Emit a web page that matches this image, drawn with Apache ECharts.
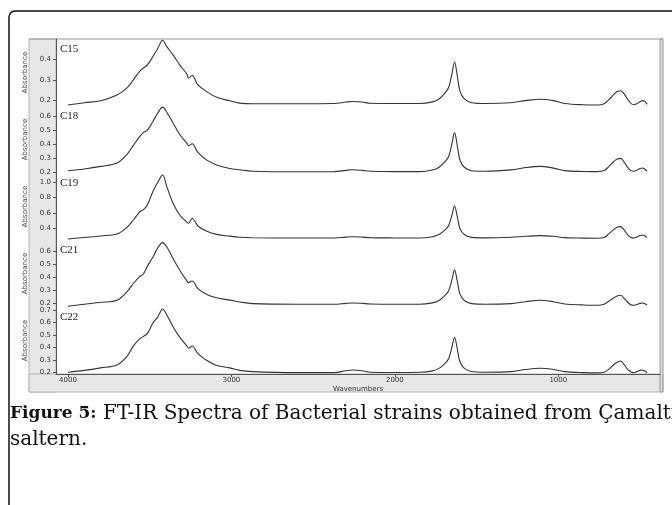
<!DOCTYPE html>
<html><head><meta charset="utf-8">
<script src="https://cdn.jsdelivr.net/npm/echarts@6/dist/echarts.min.js"></script>
<style>html,body{margin:0;padding:0;background:#fff}#c{width:672px;height:505px}</style>
</head><body><div id="c"></div><script>
// Shared wavenumber grid (cm-1), decreasing
const wavenumbers = [4000,3900,3800,3700,3640,3600,3560,3540,3515,3480,3450,3421,3395,3357,3315,3272,3262,3240,3205,3150,3090,3010,2950,2870,2600,2370,2300,2260,2200,2150,2000,1850,1770,1730,1690,1670,1650,1635,1617,1602,1575,1530,1450,1290,1200,1110,1030,960,850,760,720,690,660,640,619,600,570,543,520,500,485,470,457];

const c15 = [0.179,0.19,0.199,0.227,0.26,0.30,0.342,0.357,0.372,0.413,0.453,0.492,0.461,0.421,0.372,0.328,0.308,0.323,0.276,0.243,0.216,0.199,0.188,0.185,0.185,0.186,0.193,0.196,0.193,0.187,0.186,0.186,0.194,0.208,0.240,0.266,0.333,0.387,0.315,0.246,0.208,0.19,0.186,0.19,0.2,0.207,0.2,0.186,0.18,0.179,0.185,0.205,0.23,0.244,0.248,0.235,0.2,0.18,0.185,0.195,0.2,0.195,0.182];
const c18 = [0.209,0.222,0.24,0.264,0.324,0.39,0.454,0.479,0.497,0.561,0.621,0.663,0.626,0.55,0.466,0.405,0.388,0.402,0.34,0.285,0.25,0.225,0.216,0.206,0.202,0.203,0.212,0.216,0.212,0.205,0.203,0.203,0.214,0.234,0.278,0.314,0.406,0.481,0.381,0.286,0.234,0.209,0.205,0.215,0.232,0.24,0.228,0.21,0.204,0.203,0.21,0.24,0.275,0.292,0.297,0.275,0.225,0.205,0.212,0.225,0.229,0.22,0.205];
const c19 = [0.26,0.28,0.30,0.326,0.41,0.508,0.617,0.639,0.70,0.88,1.0,1.095,0.943,0.726,0.57,0.48,0.465,0.53,0.43,0.36,0.32,0.297,0.283,0.276,0.273,0.274,0.285,0.29,0.285,0.277,0.274,0.273,0.29,0.319,0.386,0.44,0.577,0.69,0.54,0.398,0.319,0.281,0.275,0.282,0.295,0.304,0.295,0.278,0.272,0.27,0.28,0.33,0.385,0.412,0.421,0.385,0.3,0.272,0.285,0.305,0.313,0.3,0.28];
const c21 = [0.175,0.19,0.205,0.221,0.285,0.35,0.405,0.421,0.48,0.554,0.625,0.665,0.631,0.542,0.45,0.37,0.357,0.369,0.31,0.265,0.24,0.222,0.208,0.195,0.19,0.19,0.197,0.2,0.197,0.192,0.19,0.19,0.201,0.219,0.262,0.296,0.383,0.455,0.36,0.27,0.219,0.195,0.19,0.195,0.21,0.221,0.21,0.192,0.185,0.182,0.19,0.215,0.24,0.254,0.259,0.24,0.198,0.182,0.188,0.197,0.2,0.194,0.183];
const c22 = [0.2,0.215,0.235,0.259,0.325,0.41,0.47,0.486,0.51,0.595,0.645,0.708,0.66,0.566,0.48,0.41,0.393,0.411,0.35,0.295,0.255,0.235,0.215,0.205,0.197,0.197,0.212,0.218,0.212,0.2,0.198,0.2,0.211,0.231,0.276,0.312,0.405,0.481,0.38,0.284,0.231,0.206,0.2,0.205,0.222,0.232,0.222,0.205,0.197,0.195,0.2,0.225,0.262,0.28,0.29,0.265,0.215,0.197,0.205,0.215,0.218,0.21,0.195];

const sampleNames = ['C15','C18','C19','C21','C22'];
const sampleValues = [c15,c18,c19,c21,c22];
const yTickValues = [[0.2,0.3,0.4],[0.2,0.3,0.4,0.5,0.6],[0.4,0.6,0.8,1.0],[0.2,0.3,0.4,0.5,0.6],[0.2,0.3,0.4,0.5,0.6,0.7]];
const yMins = [0.174,0.193,0.247,0.169,0.186];
const yMaxs = [0.498,0.671,1.121,0.685,0.724];
const xTickValues = [4000,3000,2000,1000];
const xMin = 378, xMax = 4073;

const chart = echarts.init(document.getElementById('c'), null, {renderer:'canvas'});
const top0 = 39, ph = 67, L = 56, R = 660;
const grids = [], xAxes = [], yAxes = [], series = [], labels = [];
const tickFont = {fontFamily:'DejaVu Sans', fontSize:7, color:'#333'};
sampleNames.forEach((nm,i)=>{
  const last = i === sampleNames.length-1;
  grids.push({left:L, width:R-L, top:top0+i*ph, height:ph, show:false});
  xAxes.push({gridIndex:i, type:'value', inverse:true, min:xMin, max:xMax,
    axisLine:{show:last, lineStyle:{color:'#555', width:1}},
    axisTick:{show:last, length:3, customValues:xTickValues, lineStyle:{color:'#555'}},
    axisLabel:{show:last, margin:3, customValues:xTickValues, formatter:v=>String(v), ...tickFont},
    splitLine:{show:false},
    name: last ? 'Wavenumbers' : '', nameLocation:'middle', nameGap:12,
    nameTextStyle:{fontFamily:'DejaVu Sans', fontSize:7, color:'#333'}
  });
  yAxes.push({gridIndex:i, type:'value', min:yMins[i], max:yMaxs[i],
    axisLine:{show:true, lineStyle:{color:'#555', width:1}},
    axisTick:{show:true, length:3, customValues:yTickValues[i], lineStyle:{color:'#555'}},
    axisLabel:{margin:5, customValues:yTickValues[i], formatter:v=>v.toFixed(1), ...tickFont},
    splitLine:{show:false},
    name:'Absorbance', nameLocation:'middle', nameGap:21, nameRotate:90,
    nameTextStyle:{fontFamily:'DejaVu Sans', fontSize:7, color:'#444'}
  });
  series.push({type:'line', xAxisIndex:i, yAxisIndex:i, showSymbol:false, smooth:0.35,
    lineStyle:{color:'#333', width:1.1}, silent:true,
    data: wavenumbers.map((w,k)=>[w, sampleValues[i][k]])});
  labels.push({type:'text', left:60, top:top0+i*ph+5, z:10,
    style:{text:nm, font:'11px "Liberation Serif"', fill:'#222'}});
});

const graphics = [
  {type:'rect', shape:{x:9, y:11, width:700, height:520, r:6}, style:{fill:'none', stroke:'#111', lineWidth:1.5}, z:-5},
  {type:'rect', shape:{x:29, y:39, width:27, height:353}, style:{fill:'#e7e7e7', stroke:'#b5b5b5', lineWidth:1}, z:-3},
  {type:'rect', shape:{x:29, y:374, width:634, height:18}, style:{fill:'#e7e7e7', stroke:'#b5b5b5', lineWidth:1}, z:-3},
  {type:'line', shape:{x1:29, y1:39, x2:663, y2:39}, style:{stroke:'#999', lineWidth:1}, z:-2},
  {type:'rect', shape:{x:660, y:39, width:3, height:353}, style:{fill:'#d9d9d9', stroke:'#999', lineWidth:1}, z:-2},
  {type:'text', left:10, top:401, z:10,
    style:{text:'{b|Figure 5:} FT-IR Spectra of Bacterial strains obtained from Çamaltı\nsaltern.',
      font:'20px "DejaVu Serif"', fill:'#111', lineHeight:26,
      rich:{b:{fontFamily:'DejaVu Serif', fontSize:17, fontWeight:'bold', fill:'#111'}}}}
].concat(labels);

chart.setOption({animation:false, backgroundColor:'#fff', grid:grids, xAxis:xAxes, yAxis:yAxes, series:series, graphic:graphics});
</script></body></html>
